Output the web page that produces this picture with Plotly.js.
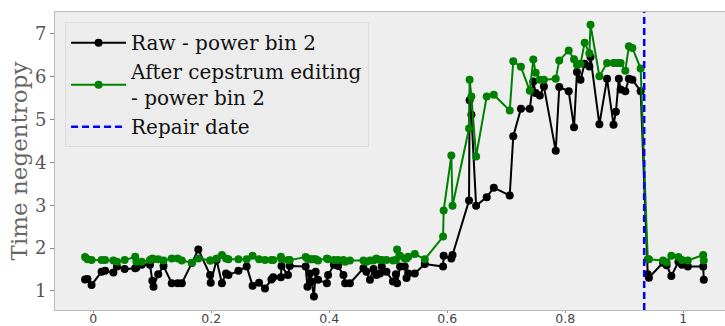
<!DOCTYPE html>
<html>
<head>
<meta charset="utf-8">
<script src="https://cdn.plot.ly/plotly-3.0.1.min.js"></script>
<style>html,body{margin:0;padding:0;background:#fff;}#chart{width:725px;height:326px;}</style>
</head>
<body>
<div id="chart"></div>
<script>
const xVals = [-0.014,-0.010,-0.003,0.014,0.020,0.034,0.040,0.053,0.071,0.073,0.082,0.096,0.100,0.102,0.110,0.119,0.133,0.143,0.150,0.167,0.178,0.198,0.199,0.209,0.218,0.225,0.229,0.246,0.260,0.270,0.281,0.291,0.302,0.305,0.318,0.319,0.330,0.333,0.360,0.363,0.367,0.370,0.374,0.377,0.381,0.396,0.398,0.408,0.415,0.424,0.427,0.435,0.458,0.463,0.469,0.475,0.480,0.486,0.489,0.497,0.508,0.513,0.515,0.520,0.528,0.531,0.534,0.545,0.562,0.593,0.594,0.607,0.609,0.637,0.638,0.641,0.649,0.667,0.679,0.706,0.712,0.725,0.740,0.746,0.750,0.757,0.764,0.784,0.790,0.806,0.815,0.820,0.826,0.833,0.841,0.843,0.858,0.871,0.882,0.886,0.891,0.894,0.902,0.908,0.914,0.928,0.940,0.942,0.966,0.972,0.980,0.992,0.998,1.008,1.034,1.035];
const rawBin2 = [1.27,1.28,1.14,1.45,1.47,1.43,1.57,1.51,1.53,1.55,1.61,1.61,1.24,1.10,1.39,1.58,1.18,1.18,1.18,1.65,1.97,1.37,1.19,1.72,1.18,1.41,1.37,1.47,1.57,1.12,1.19,1.06,1.27,1.32,1.32,1.58,1.37,1.58,1.57,1.10,1.41,1.22,0.87,1.45,1.26,1.18,1.37,1.61,1.58,1.37,1.18,1.18,1.53,1.45,1.26,1.51,1.37,1.41,1.57,1.45,1.22,1.39,1.18,1.57,1.57,1.30,1.41,1.41,1.63,1.57,1.82,1.76,1.84,3.11,5.45,5.11,2.99,3.19,3.41,3.23,4.61,5.25,5.25,5.89,5.62,5.56,5.77,4.27,5.76,5.66,4.82,6.11,5.93,6.30,6.24,6.46,4.89,5.95,4.88,5.18,5.95,5.70,5.66,5.95,5.93,5.66,1.39,1.31,1.66,1.60,1.35,1.68,1.61,1.57,1.57,1.26];
const cepBin2 = [1.79,1.74,1.72,1.72,1.72,1.71,1.68,1.72,1.80,1.68,1.68,1.72,1.76,1.74,1.74,1.71,1.76,1.76,1.71,1.66,1.76,1.71,1.71,1.76,1.84,1.76,1.74,1.74,1.74,1.82,1.74,1.72,1.72,1.72,1.80,1.74,1.72,1.72,1.79,1.76,1.74,1.74,1.74,1.74,1.71,1.76,1.74,1.72,1.72,1.72,1.68,1.71,1.71,1.68,1.71,1.71,1.76,1.72,1.72,1.72,1.71,1.72,1.97,1.82,1.76,1.76,1.80,1.86,1.74,2.27,2.88,4.16,2.99,4.79,5.93,5.54,4.14,5.54,5.58,5.21,6.36,6.23,5.67,6.40,6.09,5.93,5.93,5.95,6.38,6.61,6.41,6.28,6.30,6.79,6.55,7.21,6.01,6.32,6.32,6.32,6.32,6.32,6.14,6.71,6.67,6.19,1.74,1.74,1.71,1.67,1.82,1.79,1.72,1.71,1.84,1.71];
const repairDate = [0.934];
const xRange = [-0.065, 1.071];
const yRange = [0.556, 7.51];
const xTicks = [0, 0.2, 0.4, 0.6, 0.8, 1];
const xTickText = ['0','0.2','0.4','0.6','0.8','1'];
const yTicks = [1,2,3,4,5,6,7];

const traces = [
  {x: xVals, y: rawBin2, name: 'Raw - power bin 2', mode: 'lines+markers',
   line: {color: '#000000', width: 2}, marker: {color: '#000000', size: 8}},
  {x: xVals, y: cepBin2, name: 'After cepstrum editing<br>- power bin 2', mode: 'lines+markers',
   line: {color: '#008000', width: 2}, marker: {color: '#008000', size: 8}},
  {x: [repairDate[0], repairDate[0]], y: yRange, name: 'Repair date', mode: 'lines',
   line: {color: '#0000ff', width: 2.5, dash: '7px,4px'}}
];

const layout = {
  width: 725, height: 326,
  margin: {l: 55, r: 0, t: 12, b: 16, pad: 0},
  paper_bgcolor: '#ffffff', plot_bgcolor: '#eeeeee',
  showlegend: true,
  legend: {x: 0.015, y: 0.966, xanchor: 'left', yanchor: 'top',
    bgcolor: '#ececec', bordercolor: '#dcdcdc', borderwidth: 1,
    font: {family: 'DejaVu Serif', size: 20, color: '#111111'},
    tracegroupgap: 0, itemwidth: 55},
  xaxis: {range: xRange, tickvals: xTicks, ticktext: xTickText,
    showgrid: false, zeroline: false, showline: true, linecolor: '#bbbbbb', linewidth: 1, mirror: true,
    ticks: 'outside', ticklen: 2, tickcolor: '#888888', ticklabelstandoff: -5,
    tickfont: {family: 'DejaVu Sans', size: 12.5, color: '#444444'}},
  yaxis: {range: yRange, tickvals: yTicks,
    showgrid: false, zeroline: false, showline: true, linecolor: '#bbbbbb', linewidth: 1, mirror: true,
    ticks: 'outside', ticklen: 4, tickcolor: '#888888',
    tickfont: {family: 'DejaVu Serif', size: 18, color: '#555555'},
    title: {text: 'Time negentropy', font: {family: 'DejaVu Serif', size: 23, color: '#666666'}, standoff: 0}}
};

Plotly.newPlot('chart', traces, layout, {displayModeBar: false, staticPlot: true});
</script>
</body>
</html>
